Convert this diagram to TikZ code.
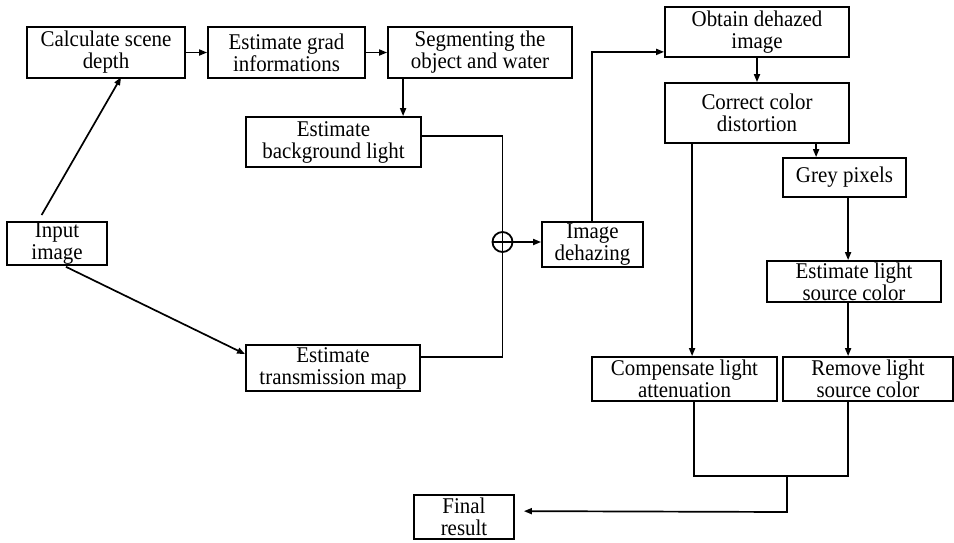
\documentclass[tikz,border=0pt]{standalone}
\usepackage{fontspec}
\setmainfont{Liberation Serif}[FakeStretch=0.93]
\usetikzlibrary{arrows.meta,calc}
\begin{document}
\begin{tikzpicture}[x=1pt,y=-1pt,
  blk/.style={draw, line width=1.8pt, align=center, inner sep=0pt,
    font=\fontsize{22.5}{22}\selectfont},
  arr/.style={line width=1.7pt, -{Triangle[length=8pt,width=6pt]}},
  ln/.style={line width=1.7pt},
  sumnode/.style={draw, circle, line width=1.8pt, minimum size=20pt, inner sep=0pt}]
\useasboundingbox (0,0) rectangle (954,542);
% nodes
\node[blk, minimum width=158pt, minimum height=51pt] (calc) at (106,52.5) {Calculate scene\\depth};
\node[blk, minimum width=157pt, minimum height=51pt] (grad) at (286.5,52.5) {Estimate grad\\informations};
\node[blk, minimum width=184pt, minimum height=51pt] (seg) at (480,52.5) {Segmenting the\\object and water};
\node[blk, minimum width=175pt, minimum height=50pt] (bg) at (333.5,142) {Estimate\\background light};
\node[blk, minimum width=100pt, minimum height=43pt] (input) at (57,243.5) {Input\\image};
\node[blk, minimum width=174pt, minimum height=46pt] (trans) at (333,368) {Estimate\\transmission map};
\node[sumnode] (sum) at (502.5,242) {};
\node[blk, minimum width=101pt, minimum height=45pt] (dehaze) at (592.5,244.5) {Image\\dehazing};
\node[blk, minimum width=184pt, minimum height=50pt] (obtain) at (757,32) {Obtain dehazed\\image};
\node[blk, minimum width=184pt, minimum height=60pt] (correct) at (757,113) {Correct color\\distortion};
\node[blk, minimum width=123pt, minimum height=39pt] (grey) at (844.5,177.5) {Grey pixels};
\node[blk, minimum width=174pt, minimum height=41pt] (estls) at (854,281.5) {Estimate light\\source color};
\node[blk, minimum width=185pt, minimum height=44pt] (comp) at (684.5,379) {Compensate light\\attenuation};
\node[blk, minimum width=170pt, minimum height=44pt] (remove) at (868,379) {Remove light\\source color};
\node[blk, minimum width=100pt, minimum height=44pt] (final) at (464,517) {Final\\result};
% helper coordinates
\coordinate (inTop) at ($(input.north west)+(32,0)$);
\coordinate (calcBot) at ($(calc.south west)+(94,0)$);
\coordinate (inBot) at ($(input.south west)+(58,0)$);
\coordinate (transIn) at ($(trans.north west)+(0,10)$);
\coordinate (bgTop) at ($(bg.north west)+(158,0)$);
\coordinate (bgOut) at ($(bg.north east)+(0,20)$);
\coordinate (trOut) at ($(trans.north east)+(0,13)$);
\coordinate (obIn) at ($(obtain.south west)+(0,-6)$);
\coordinate (greyTop) at ($(grey.north west)+(34,0)$);
\coordinate (compTop) at ($(comp.north west)+(101,0)$);
\coordinate (compBot) at ($(comp.south west)+(103,0)$);
\coordinate (greyBot) at ($(grey.south west)+(66,0)$);
\coordinate (estTop) at ($(estls.north west)+(82,0)$);
\coordinate (estBot) at ($(estls.south west)+(82,0)$);
\coordinate (remTop) at ($(remove.north west)+(66,0)$);
\coordinate (remBot) at ($(remove.south west)+(66,0)$);
\coordinate (joinL) at (compBot |- 0,476);
\coordinate (joinR) at (remBot |- 0,476);
\coordinate (joinM) at (787,476);
\coordinate (joinD) at (787,512);
\coordinate (finIn) at ($(final.north east)+(0,17)$);
% connectors
\draw[arr, shorten <=7pt, shorten >=-2pt] (inTop) -- (calcBot);
\draw[arr, shorten <=2pt] (inBot) -- (transIn);
\draw[arr] (calc) -- (grad);
\draw[arr] (grad) -- (seg);
\draw[arr] (seg.south -| bgTop) -- (bgTop);
\draw[ln] (bgOut) -| (sum.north);
\draw[ln] (trOut) -| (sum.south);
\draw[ln] (sum.north) -- (sum.south);
\draw[ln] (sum.west) -- (sum.east);
\draw[arr] (sum.east) -- (sum.east -| dehaze.west);
\draw[arr] (dehaze.north -| 592,0) |- (obIn);
\draw[arr] (obtain.south) -- (correct.north);
\draw[arr] (correct.south -| greyTop) -- (greyTop);
\draw[arr] (correct.south -| compTop) -- (compTop);
\draw[arr] (greyBot) -- (estTop);
\draw[arr] (estBot) -- (remTop);
\draw[ln] (compBot) -- (joinL) -- (joinR) -- (remBot);
\draw[arr, shorten >=9pt] (joinM) -- (joinD) -- (finIn);
\end{tikzpicture}
\end{document}
